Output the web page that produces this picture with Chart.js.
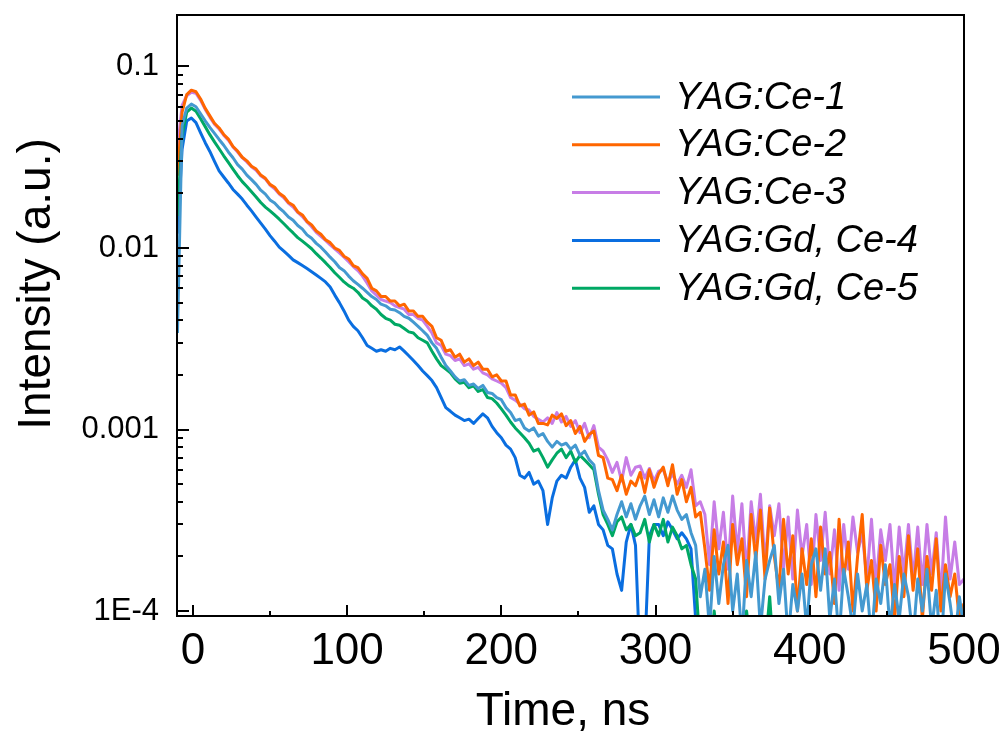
<!DOCTYPE html>
<html>
<head>
<meta charset="utf-8">
<title>YAG:Ce decay curves</title>
<script src="https://cdn.jsdelivr.net/npm/chart.js@4.4.1/dist/chart.umd.min.js"></script>
<style>
  html, body { margin: 0; padding: 0; background: #ffffff; }
  #wrap { width: 1003px; height: 731px; }
</style>
</head>
<body>
<div id="wrap"><canvas id="decay" width="1003" height="731"></canvas></div>
<script>
// sampling times, ns
const timeNs = [
  -10, -7, -4, -1, 2, 5, 8, 11, 14, 17,
  20, 23, 26, 29, 32, 35, 38, 41, 44, 47,
  50, 53, 56, 59, 62, 65, 68, 71, 74, 77,
  80, 83, 86, 89, 92, 95, 98, 101, 104, 107,
  110, 113, 116, 119, 122, 125, 128, 131, 134, 137,
  140, 143, 146, 149, 152, 155, 158, 161, 164, 167,
  170, 173, 176, 179, 182, 185, 188, 191, 194, 197,
  200, 203, 206, 209, 212, 215, 218, 221, 224, 227,
  230, 233, 236, 239, 242, 245, 248, 251, 254, 257,
  260, 263, 266, 269, 272, 275, 278, 281, 284, 287,
  290, 293, 296, 299, 302, 305, 308, 311, 314, 317,
  320, 323, 326, 329, 332, 335, 338, 341, 344, 347,
  350, 353, 356, 359, 362, 365, 368, 371, 374, 377,
  380, 383, 386, 389, 392, 395, 398, 401, 404, 407,
  410, 413, 416, 419, 422, 425, 428, 431, 434, 437,
  440, 443, 446, 449, 452, 455, 458, 461, 464, 467,
  470, 473, 476, 479, 482, 485, 488, 491, 494, 497,
  500
];

// intensities, in units of 1E-4 (a.u.)
const UNIT = 1e-4;

const yagCe1 = [
  34, 470, 590, 620, 600, 548, 502, 462, 428, 396,
  368, 338, 314, 288, 272, 252, 238, 224, 208, 198,
  184, 177, 166, 158, 148, 142, 133, 127, 118, 113,
  106, 101, 95, 89, 84, 78, 75, 70, 66, 63,
  60, 57, 54, 52, 49, 48, 46, 45.5, 44, 42,
  41, 39, 37, 35, 33, 30, 28, 25, 22.5, 21,
  19.5, 18.5, 18.8, 17.5, 17.8, 16.8, 17.5, 16, 15.8, 15,
  14.6, 13.2, 12.4, 11.2, 11.4, 10.2, 9.8, 10.2, 9.2, 9.5,
  8.6, 8.0, 8.6, 8.2, 8.4, 7.8, 8.2, 7.2, 7.6, 6.8,
  6.4, 4.6, 3.6, 3.2, 2.8, 3.4, 4.0, 3.3, 3.9, 3.2,
  3.8, 4.3, 3.4, 4.1, 3.3, 4.2, 3.5, 4.3, 3.6, 3.2,
  3.4, 2.7, 2.3, 1.2, 1.7, 0.8, 2.0, 1.1, 1.8, 2.3,
  1.0, 1.6, 0.7, 1.9, 1.2, 2.1, 0.8, 1.5, 1.9, 2.3,
  1.1, 1.7, 0.7, 1.4, 1.0, 1.6, 0.8, 1.8, 2.2, 1.3,
  2.2, 0.9, 1.5, 0.7, 1.7, 1.2, 0.8, 1.6, 1.0, 1.4,
  0.7, 1.5, 1.1, 1.8, 0.8, 1.4, 0.9, 1.6, 1.2, 0.7,
  1.5, 1.0, 1.7, 0.8, 1.3, 0.6, 1.6, 1.1, 0.7, 1.2,
  0.8
];

const yagCe2 = [
  250, 560, 700, 740, 725, 662, 588, 534, 486, 458,
  422, 398, 362, 342, 316, 302, 282, 272, 252, 242,
  224, 216, 200, 192, 178, 172, 158, 152, 140, 134,
  124, 119, 111, 107, 100, 97, 90, 87, 80, 78,
  72, 68, 60, 58, 54, 54, 51, 51, 48, 49,
  45, 45, 42, 42, 39, 37, 32, 31, 27, 27.5,
  25, 26, 23.5, 24.5, 22.5, 23.5, 21.5, 21.5, 19.5, 20,
  18.5, 18.5, 15.5, 15.5, 13.5, 13.8, 12, 12.5, 10.8, 10.8,
  10.6, 12, 11.5, 12.2, 10.5, 11.2, 9.5, 10.4, 8.6, 9.4,
  9.8, 7.2, 7.0, 5.4, 5.3, 4.6, 5.6, 4.4, 5.2, 4.9,
  5.8, 4.5, 6.0, 4.8, 5.7, 6.2, 4.9, 6.4, 4.4, 5.3,
  4.0, 4.8, 3.3, 3.5, 2.2, 1.3, 2.8, 1.6, 2.4, 1.1,
  3.0, 1.8, 2.5, 1.2, 3.4, 1.9, 3.6, 1.5, 3.7, 2.0,
  1.3, 3.2, 1.6, 2.6, 1.0, 2.2, 1.4, 2.5, 1.2, 2.9,
  1.6, 2.1, 1.1, 3.2, 1.5, 2.4, 1.0, 2.0, 3.4, 1.3,
  1.9, 1.0, 2.3, 1.4, 1.8, 0.9, 2.0, 1.2, 2.6, 1.3,
  2.2, 0.9, 2.0, 1.3, 2.5, 1.0, 1.8, 1.2, 1.6, 0.9,
  1.1
];

const yagCe3 = [
  350, 610, 690, 720, 712, 650, 580, 526, 480, 452,
  418, 392, 360, 338, 314, 298, 280, 268, 250, 240,
  222, 212, 198, 189, 176, 168, 157, 149, 139, 131,
  122, 116, 110, 104, 99, 94, 89, 84, 79, 75,
  70, 64, 58, 55, 52, 51, 50, 48, 47, 46,
  43, 43, 41, 40, 37, 34, 30, 29, 26, 25.5,
  24, 24.5, 22.5, 23, 21.5, 22, 20.5, 20, 19, 18.5,
  18, 17, 15, 14.5, 13.8, 13, 12.8, 11.8, 11.4, 11,
  11.6, 10.8, 12.4, 11, 11.8, 10.4, 11.2, 9.6, 10.8, 9,
  10.5, 8, 7.6, 6.8, 5.8, 6.6, 5.2, 7, 5.6, 6.2,
  6.3, 5.4, 6.1, 5.2, 5.9, 6.0, 5.1, 5.7, 5.0, 5.6,
  4.8, 6.0, 3.8, 4.0, 3.4, 1.8, 4.0, 2.2, 3.5, 1.7,
  4.3, 2.1, 3.9, 1.6, 4.0, 2.4, 4.4, 1.8, 3.8, 2.6,
  3.9, 1.7, 3.3, 1.5, 3.6, 2.0, 3.0, 1.4, 3.4, 1.9,
  3.5, 1.6, 2.8, 1.3, 3.0, 1.7, 3.3, 2.1, 2.7, 1.5,
  3.2, 1.4, 2.8, 1.9, 3.0, 1.3, 2.9, 1.6, 3.0, 1.5,
  2.9, 1.4, 3.0, 1.6, 2.7, 1.2, 3.3, 1.5, 2.4, 1.4,
  1.5
];

const yagGdCe4 = [
  120, 350, 500, 520, 490, 430, 380, 340, 300, 266,
  246, 228, 210, 198, 186, 172, 160, 148, 137, 127,
  117, 109, 101, 96, 91, 86, 83, 80, 77, 74,
  71, 68, 65, 61, 55, 50, 45, 40, 37, 35,
  32, 29, 28, 27, 27.5, 27, 28, 27.5, 28.5, 27,
  25.5, 24, 22.5, 21, 19.8, 18.6, 17, 15, 13.2, 12.6,
  12, 11.6, 11.2, 11.4, 10.8, 11.5, 12.2, 11.6, 10.4, 9.6,
  9.0, 8.2, 7.8, 7.0, 5.6, 5.4, 5.8, 5.0, 5.2, 4.6,
  3.0, 4.2, 5.2, 5.6, 5.4, 6.2, 6.8, 5.4, 4.8, 3.5,
  3.8, 3.0, 2.8, 2.3, 2.2, 1.6, 1.3, 2.4, 3.0, 2.3,
  0.5, 0.6, 2.6, 3.0, 3.0, 2.6, 3.1, 2.8, 2.5, 2.7,
  2.5, 2.2, 0.9, 0.4, 0.5, 0.4, 0.5, 0.4, 0.5, 0.4,
  0.5, 0.4, 0.5, 0.4, 0.5, 0.4, 0.5, 0.4, 0.5, 0.4,
  0.5, 0.4, 0.5, 0.4, 0.5, 0.4, 0.5, 0.4, 0.5, 0.4,
  0.5, 0.4, 0.5, 0.4, 0.5, 0.4, 0.5, 0.4, 0.5, 0.4,
  0.5, 0.4, 0.5, 0.4, 0.5, 0.4, 0.5, 0.4, 0.5, 0.4,
  0.5, 0.4, 0.5, 0.4, 0.5, 0.4, 0.5, 0.4, 0.5, 0.4,
  0.4
];

const yagGdCe5 = [
  150, 420, 560, 590, 566, 515, 466, 421, 384, 352,
  322, 296, 272, 250, 232, 218, 204, 191, 178, 168,
  160, 152, 144, 136, 128, 121, 114, 109, 104, 99,
  93, 88, 83, 78, 73, 69, 65, 62, 60, 57,
  53, 51, 48, 46, 43, 41, 40, 38, 37.5, 36,
  34.5, 34, 32, 31, 30, 27, 24.5, 22.5, 21.5, 20.5,
  19, 18, 18.2, 17, 17.4, 16.2, 16.6, 15, 14.8, 14,
  13, 12, 11, 10.2, 9.6, 9, 8.4, 7.6, 7.8, 7,
  6.2, 6.8, 7.4, 7.8, 7.0, 7.6, 6.6, 7.2, 6.8, 6.4,
  6.0, 4.4, 3.4, 3.0, 2.6, 3.1, 3.3, 2.8, 3.0, 2.6,
  2.7, 3.2, 2.4, 3.0, 2.6, 3.2, 2.4, 2.9, 2.6, 2.2,
  2.3, 1.8, 1.5, 0.6, 0.8, 0.5, 1.0, 0.6, 0.7, 0.5,
  0.8, 0.5, 0.7, 1.0, 0.6, 0.5, 0.9, 0.6, 1.2, 0.5,
  0.7, 0.5, 0.8, 0.6, 0.5, 0.9, 0.6, 0.5, 0.8, 0.6,
  0.5, 0.7, 0.6, 0.5, 0.9, 0.6, 0.5, 0.7, 0.5, 0.6,
  0.8, 0.5, 0.6, 0.5, 0.7, 0.6, 1.0, 0.5, 0.6, 0.5,
  0.7, 0.5, 0.6, 0.8, 0.5, 0.6, 0.5, 0.7, 0.5, 0.6,
  0.5
];

const seriesLabels = ["YAG:Ce-1", "YAG:Ce-2", "YAG:Ce-3", "YAG:Gd, Ce-4", "YAG:Gd, Ce-5"];
const seriesValues = [yagCe1, yagCe2, yagCe3, yagGdCe4, yagGdCe5];
const seriesColors = ["#4499d0", "#ff6600", "#c77de6", "#0a6ee0", "#00a864"];
// chart.js draws higher order first, so Ce-1 ends up on top
const seriesOrder = [0, 3, 4, 2, 1];

const xTickValues = [0, 100, 200, 300, 400, 500];
const xMinorValues = [50, 150, 250, 350, 450];
const yTickValues = [1e-4, 1e-3, 1e-2, 1e-1];
const yTickLabels = ["1E-4", "0.001", "0.01", "0.1"];
const yMinorValues = [
  2e-4, 3e-4, 4e-4, 5e-4, 6e-4, 7e-4, 8e-4, 9e-4,
  2e-3, 3e-3, 4e-3, 5e-3, 6e-3, 7e-3, 8e-3, 9e-3,
  2e-2, 3e-2, 4e-2, 5e-2, 6e-2, 7e-2, 8e-2, 9e-2
];

const FONT = "Arial, 'Liberation Sans', Helvetica, sans-serif";

const decor = {
  id: "decor",
  afterDraw(chart) {
    const { ctx, chartArea: a } = chart;
    const x = chart.scales.x;
    const y = chart.scales.y;
    ctx.save();
    ctx.strokeStyle = "#000";
    ctx.lineWidth = 2;
    ctx.strokeRect(a.left, a.top, a.right - a.left, a.bottom - a.top);

    // inward tick marks
    ctx.beginPath();
    xTickValues.forEach((v) => {
      const px = Math.round(x.getPixelForValue(v));
      ctx.moveTo(px, a.bottom);
      ctx.lineTo(px, a.bottom - 11);
    });
    xMinorValues.forEach((v) => {
      const px = Math.round(x.getPixelForValue(v));
      ctx.moveTo(px, a.bottom);
      ctx.lineTo(px, a.bottom - 5);
    });
    yTickValues.forEach((v) => {
      const py = Math.round(y.getPixelForValue(v));
      ctx.moveTo(a.left, py);
      ctx.lineTo(a.left + 12, py);
    });
    yMinorValues.forEach((v) => {
      const py = Math.round(y.getPixelForValue(v));
      ctx.moveTo(a.left, py);
      ctx.lineTo(a.left + 6, py);
    });
    ctx.stroke();

    // axis titles
    ctx.fillStyle = "#000";
    ctx.font = "46px " + FONT;
    ctx.textAlign = "center";
    ctx.textBaseline = "alphabetic";
    ctx.fillText("Time, ns", 563, 725);
    ctx.save();
    ctx.translate(50, 284);
    ctx.rotate(-Math.PI / 2);
    ctx.fillText("Intensity (a.u.)", 0, 0);
    ctx.restore();

    // legend
    ctx.font = "italic 38px " + FONT;
    ctx.textAlign = "left";
    ctx.textBaseline = "middle";
    ctx.lineWidth = 3;
    chart.data.datasets.forEach((ds, i) => {
      const ly = 97 + i * 47.8;
      ctx.strokeStyle = ds.borderColor;
      ctx.beginPath();
      ctx.moveTo(572, ly);
      ctx.lineTo(660, ly);
      ctx.stroke();
      ctx.fillText(ds.label, 675, ly + 1);
    });
    ctx.restore();
  },
};

const datasets = seriesLabels.map((label, i) => ({
  label,
  data: timeNs.map((t, k) => ({ x: t, y: seriesValues[i][k] * UNIT })),
  borderColor: seriesColors[i],
  backgroundColor: seriesColors[i],
  borderWidth: 3,
  borderJoinStyle: "round",
  pointRadius: 0,
  tension: 0,
  fill: false,
  clip: 0,
  order: seriesOrder[i],
}));

new Chart(document.getElementById("decay"), {
  type: "line",
  data: { datasets },
  options: {
    responsive: false,
    animation: false,
    devicePixelRatio: 1,
    layout: { padding: { top: 15, right: 39, left: 0, bottom: 0 } },
    plugins: {
      legend: { display: false },
      tooltip: { enabled: false },
    },
    scales: {
      x: {
        type: "linear",
        position: "bottom",
        min: -10.3,
        max: 500,
        grid: { display: false, drawTicks: false, tickLength: 0 },
        border: { display: false },
        afterBuildTicks: (scale) => {
          scale.ticks = xTickValues.map((v) => ({ value: v }));
        },
        afterFit: (scale) => {
          scale.height = 115;
          scale.paddingLeft = 0;
          scale.paddingRight = 0;
        },
        ticks: {
          autoSkip: false,
          maxRotation: 0,
          padding: 9,
          color: "#000",
          font: { family: FONT, size: 44 },
          callback: (v) => String(v),
        },
      },
      y: {
        type: "logarithmic",
        position: "left",
        min: 9.39e-5,
        max: 0.192,
        grid: { display: false, drawTicks: false, tickLength: 0 },
        border: { display: false },
        afterBuildTicks: (scale) => {
          scale.ticks = yTickValues.map((v) => ({ value: v }));
        },
        afterFit: (scale) => {
          scale.width = 177;
          scale.paddingTop = 0;
          scale.paddingBottom = 0;
        },
        ticks: {
          autoSkip: false,
          padding: 18,
          color: "#000",
          font: { family: FONT, size: 31 },
          callback: (v, i) => yTickLabels[i],
        },
      },
    },
  },
  plugins: [decor],
});
</script>
</body>
</html>
